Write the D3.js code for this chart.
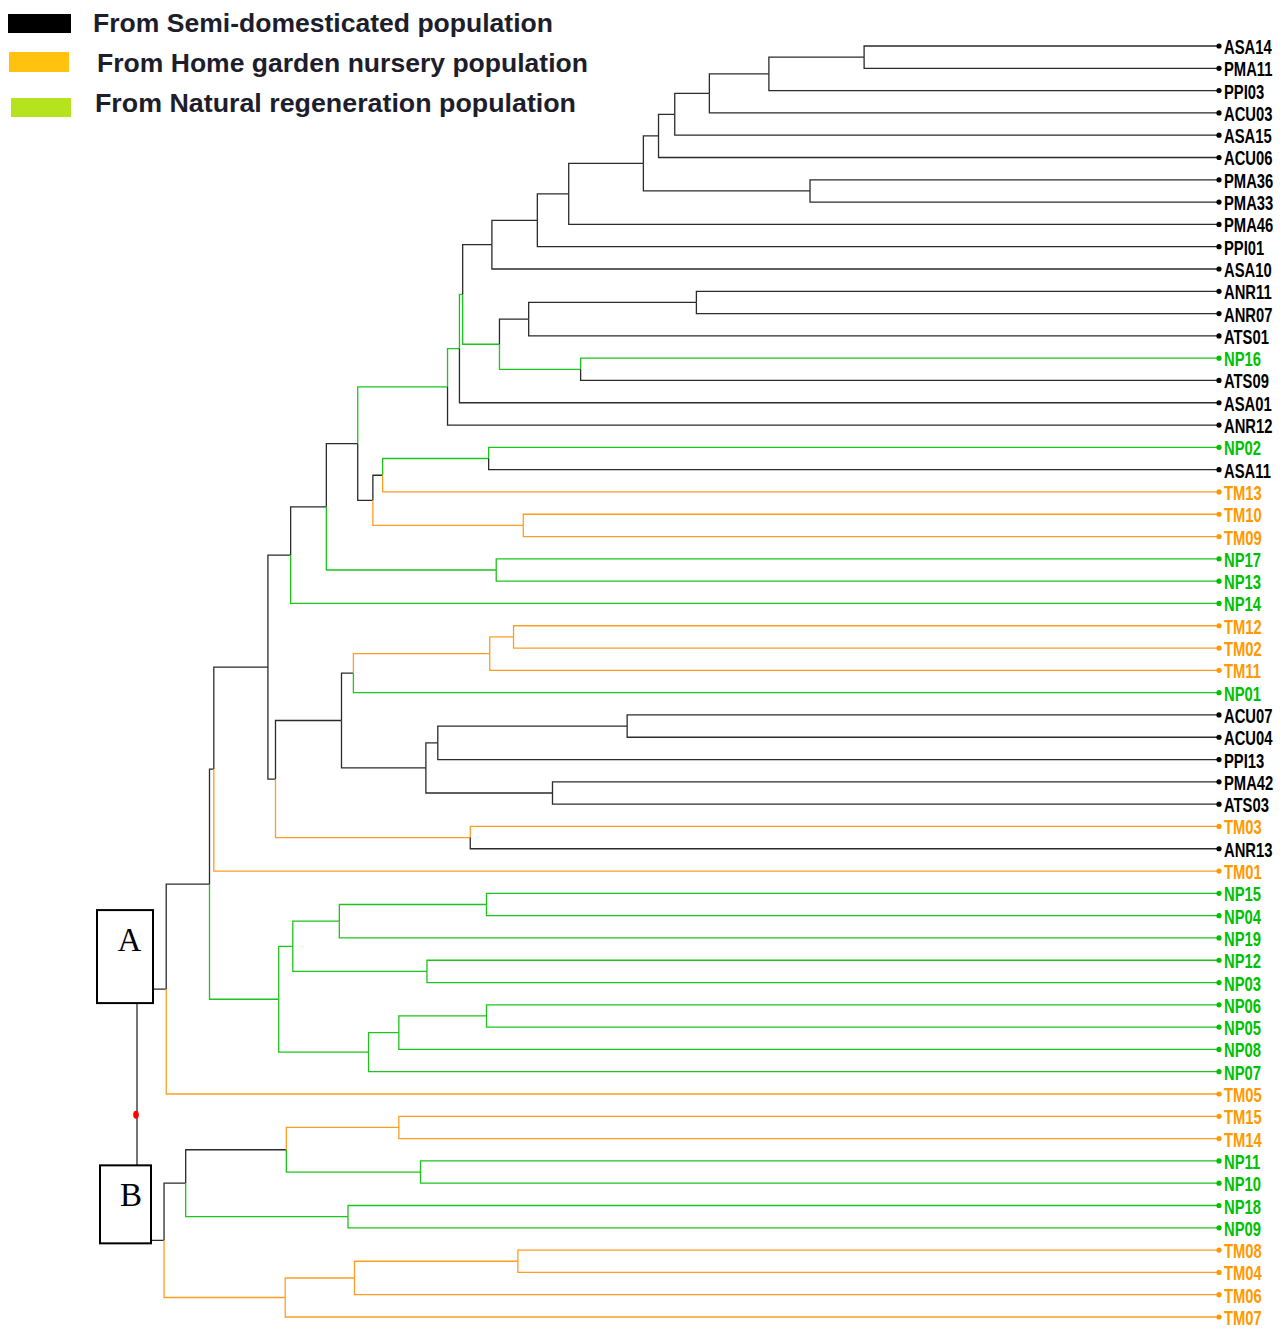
<!DOCTYPE html>
<html>
<head>
<meta charset="utf-8">
<script src="https://cdn.jsdelivr.net/npm/d3@7"></script>
<style>
  body { margin: 0; background: #fff; }
  svg { display: block; }
</style>
</head>
<body>
<div id="tree"></div>
<script>

// leaf order, top to bottom
var leaves = ["ASA14","PMA11","PPI03","ACU03","ASA15","ACU06","PMA36","PMA33","PMA46","PPI01",
  "ASA10","ANR11","ANR07","ATS01","NP16","ATS09","ASA01","ANR12","NP02","ASA11",
  "TM13","TM10","TM09","NP17","NP13","NP14","TM12","TM02","TM11","NP01",
  "ACU07","ACU04","PPI13","PMA42","ATS03","TM03","ANR13","TM01","NP15","NP04",
  "NP19","NP12","NP03","NP06","NP05","NP08","NP07","TM05","TM15","TM14",
  "NP11","NP10","NP18","NP09","TM08","TM04","TM06","TM07"];

// merges: [node, left, right, height (root = 100), branch colour group]
var merges = [
  ["a1","ASA14","PMA11",32.8,"S"],
  ["a2","a1","PPI03",41.6,"S"],
  ["a3","a2","ACU03",47.1,"S"],
  ["a4","a3","ASA15",50.3,"S"],
  ["a5","a4","ACU06",51.8,"S"],
  ["a6","PMA36","PMA33",37.8,"S"],
  ["a7","a5","a6",53.2,"S"],
  ["a8","a7","PMA46",60.1,"S"],
  ["a9","a8","PPI01",63.0,"S"],
  ["a10","a9","ASA10",67.2,"S"],
  ["b1","ANR11","ANR07",48.3,"S"],
  ["b2","b1","ATS01",63.8,"S"],
  ["b3","NP16","ATS09",59.0,"N"],
  ["b4","b2","b3",66.5,"N"],
  ["n1","a10","b4",69.9,"N"],
  ["n2","n1","ASA01",70.2,"N"],
  ["n3","n2","ANR12",71.3,"N"],
  ["c1","NP02","ASA11",67.5,"N"],
  ["c2","c1","TM13",77.3,"S"],
  ["c3","TM10","TM09",64.3,"H"],
  ["c4","c2","c3",78.2,"S"],
  ["n4","n3","c4",79.6,"S"],
  ["d1","NP17","NP13",66.8,"N"],
  ["n5","n4","d1",82.5,"S"],
  ["n6","n5","NP14",85.8,"S"],
  ["f1","TM12","TM02",65.2,"H"],
  ["f2","f1","TM11",67.4,"H"],
  ["f3","f2","NP01",80.0,"S"],
  ["g1","ACU07","ACU04",54.7,"S"],
  ["g2","g1","PPI13",72.2,"S"],
  ["g3","PMA42","ATS03",61.6,"S"],
  ["g4","g2","g3",73.3,"S"],
  ["f4","f3","g4",81.1,"S"],
  ["h1","TM03","ANR13",69.2,"H"],
  ["e1","f4","h1",87.2,"S"],
  ["n7","n6","e1",87.9,"S"],
  ["n8","n7","TM01",92.9,"S"],
  ["p1","NP15","NP04",67.7,"N"],
  ["p2","p1","NP19",81.3,"N"],
  ["p3","NP12","NP03",73.2,"N"],
  ["p4","p2","p3",85.6,"N"],
  ["p5","NP06","NP05",67.7,"N"],
  ["p6","p5","NP08",75.8,"N"],
  ["p7","p6","NP07",78.6,"N"],
  ["p8","p4","p7",86.9,"N"],
  ["n9","n8","p8",93.3,"S"],
  ["A","n9","TM05",97.3,"S"],
  ["q1","TM15","TM14",75.8,"H"],
  ["q2","NP11","NP10",73.8,"N"],
  ["q3","q1","q2",86.2,"S"],
  ["q4","NP18","NP09",80.5,"N"],
  ["q5","q3","q4",95.5,"S"],
  ["r1","TM08","TM04",64.8,"H"],
  ["r2","r1","TM06",79.9,"H"],
  ["r3","r2","TM07",86.3,"H"],
  ["B","q5","r3",97.5,"S"],
  ["root","A","B",100,"S"]
];

var legendLabels = ["From Semi-domesticated population",
  "From Home garden nursery population",
  "From Natural regeneration population"];
var legendColors = ["#000000", "#ffc20e", "#b5e31e"];
var clusterLabels = ["A", "B"];

var labelColor = {S: "#000000", H: "#ff9900", N: "#00c000"};
var lineColor = {S: "#2b2b2b", H: "#ff9d22", N: "#1cc41c"};

function groupOf(name) {
  if (name.indexOf("NP") == 0) return "N";
  if (name.indexOf("TM") == 0) return "H";
  return "S";
}

var width = 1285, height = 1329;

var svg = d3.select("#tree").append("svg")
  .attr("width", width)
  .attr("height", height);

var x = d3.scaleLinear().domain([0, 100]).range([1219, 137]);
var y = d3.scalePoint().domain(leaves).range([46, 1317]);

// build the nested tree from the merge list
var byName = {};
leaves.forEach(function(n) { byName[n] = {name: n, height: 0, group: groupOf(n)}; });
merges.forEach(function(m) {
  byName[m[0]] = {name: m[0], height: m[3], group: m[4], children: [byName[m[1]], byName[m[2]]]};
});

var root = d3.hierarchy(byName.root);
root.eachAfter(function(d) {
  d.px = x(d.data.height);
  d.py = d.children ? d3.mean(d.children, function(c) { return c.py; }) : y(d.data.name);
});

// elbow links
svg.append("g").selectAll("path")
  .data(root.descendants().slice(1))
  .join("path")
  .attr("d", function(d) { return "M" + d.parent.px + "," + d.parent.py + "V" + d.py + "H" + d.px; })
  .attr("fill", "none")
  .attr("stroke", function(d) { return lineColor[d.data.group]; })
  .attr("stroke-width", 1.3);

// leaf dots + labels
var leafNodes = root.leaves();
svg.append("g").selectAll("circle")
  .data(leafNodes)
  .join("circle")
  .attr("cx", function(d) { return d.px; })
  .attr("cy", function(d) { return d.py; })
  .attr("r", 2.6)
  .attr("fill", function(d) { return labelColor[d.data.group]; });

svg.append("g").selectAll("g")
  .data(leafNodes)
  .join("g")
  .attr("transform", function(d) { return "translate(" + (d.px + 5) + "," + (d.py + 8) + ") scale(0.74,1)"; })
  .append("text")
  .attr("font-family", "Liberation Sans, Arial, sans-serif")
  .attr("font-weight", "bold")
  .attr("font-size", 20)
  .attr("fill", function(d) { return labelColor[d.data.group]; })
  .text(function(d) { return d.data.name; });

// cluster boxes A / B, drawn over the root connector
var clusterA = root.descendants().find(function(d) { return d.data.name == "A"; });
var clusterB = root.descendants().find(function(d) { return d.data.name == "B"; });
var boxes = [
  {label: clusterLabels[0], x0: root.px - 40, x1: root.px + 16, y0: clusterA.py - 79, y1: clusterA.py + 14, dx: 4.5},
  {label: clusterLabels[1], x0: root.px - 37, x1: root.px + 14, y0: clusterB.py - 75, y1: clusterB.py + 3, dx: 5.5}
];
var boxG = svg.append("g").selectAll("g").data(boxes).join("g");
boxG.append("rect")
  .attr("x", function(d) { return d.x0; })
  .attr("y", function(d) { return d.y0; })
  .attr("width", function(d) { return d.x1 - d.x0; })
  .attr("height", function(d) { return d.y1 - d.y0; })
  .attr("fill", "#fff")
  .attr("stroke", "#000")
  .attr("stroke-width", 2);
boxG.append("text")
  .attr("x", function(d) { return (d.x0 + d.x1) / 2 + d.dx; })
  .attr("y", function(d) { return d.y0 + 41; })
  .attr("text-anchor", "middle")
  .attr("font-family", "Liberation Serif, Times New Roman, serif")
  .attr("font-size", 33)
  .text(function(d) { return d.label; });

// root marker
svg.append("ellipse")
  .attr("cx", root.px - 1)
  .attr("cy", root.py)
  .attr("rx", 2.8)
  .attr("ry", 4)
  .attr("fill", "#ff0000");

// legend
var legend = svg.append("g");
var legendRects = [[8, 14, 63, 19], [9, 52, 60, 20], [11, 98, 60, 19]];
var legendText = [[93, 32, 460], [97, 72, 491], [95, 112, 481]];
legend.selectAll("rect")
  .data(legendColors)
  .join("rect")
  .attr("x", function(d, i) { return legendRects[i][0]; })
  .attr("y", function(d, i) { return legendRects[i][1]; })
  .attr("width", function(d, i) { return legendRects[i][2]; })
  .attr("height", function(d, i) { return legendRects[i][3]; })
  .attr("fill", function(d) { return d; });
legend.selectAll("text")
  .data(legendLabels)
  .join("text")
  .attr("x", function(d, i) { return legendText[i][0]; })
  .attr("y", function(d, i) { return legendText[i][1]; })
  .attr("textLength", function(d, i) { return legendText[i][2]; })
  .attr("lengthAdjust", "spacingAndGlyphs")
  .attr("font-family", "Liberation Sans, Arial, sans-serif")
  .attr("font-weight", "bold")
  .attr("font-size", 26)
  .attr("fill", "#1d1d2b")
  .text(function(d) { return d; });

</script>
</body>
</html>
